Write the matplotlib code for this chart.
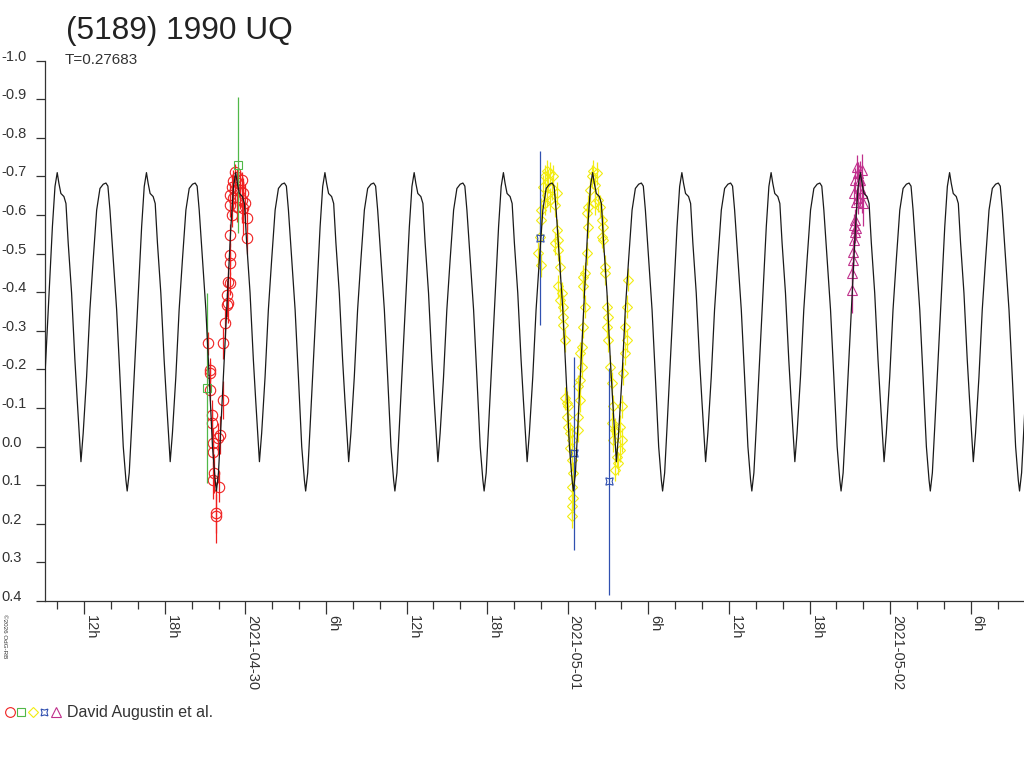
import matplotlib
matplotlib.use('Agg')
import matplotlib.pyplot as plt
import matplotlib.transforms as mtransforms
from matplotlib.lines import Line2D
from matplotlib.legend_handler import HandlerTuple
import numpy as np

plt.rcParams['font.family'] = ['Liberation Sans', 'DejaVu Sans']

title = '(5189) 1990 UQ'
period_days = 0.27683
observer = 'David Augustin et al.'

# time axis in hours from 2021-04-30 00:00 UT
major_hours = [-12, -6, 0, 6, 12, 18, 24, 30, 36, 42, 48, 54]
major_labels = ['12h', '18h', '2021-04-30', '6h', '12h', '18h', '2021-05-01',
                '6h', '12h', '18h', '2021-05-02', '6h']
y_ticks = [-1.0, -0.9, -0.8, -0.7, -0.6, -0.5, -0.4, -0.3, -0.2, -0.1,
           0.0, 0.1, 0.2, 0.3, 0.4]

# model light curve, one rotation (phase, relative magnitude), repeated
model_phase = [0.000, 0.019, 0.041, 0.075, 0.098, 0.123, 0.161, 0.198, 0.224,
               0.247, 0.266, 0.291, 0.329, 0.366, 0.403, 0.442, 0.479, 0.516,
               0.546, 0.568, 0.591, 0.628, 0.666, 0.703, 0.740, 0.770, 0.784,
               0.807, 0.834, 0.871, 0.908, 0.946, 0.975]
model_mag = [-0.710, -0.682, -0.656, -0.648, -0.630, -0.528, -0.398, -0.225,
             -0.121, -0.035, 0.039, -0.035, -0.180, -0.354, -0.484, -0.613,
             -0.669, -0.680, -0.683, -0.675, -0.613, -0.484, -0.354, -0.180,
             0.000, 0.087, 0.115, 0.068, -0.052, -0.225, -0.398, -0.570, -0.674]
model_epoch_h = -14.01

# observations (hours, mag, error)
red_h = [-0.77, -0.65, -0.90, -0.53, -0.28, -1.02, -0.77, -0.40, -0.16, -1.15,
         -0.90, -0.28, -0.03, -1.15, -0.65, -0.16, 0.10, -1.02, -1.15, 0.10,
         -1.15, -1.15, -1.27, -1.15, -1.39, -1.27, -1.39, -1.52, -1.65, -2.76,
         -2.64, -2.64, -2.64, -1.69, -2.51, -2.51, -1.89, -2.02, -2.43, -2.39,
         -2.34, -2.39, -1.94, -2.19, -2.19]
red_m = [-0.712, -0.699, -0.687, -0.682, -0.691, -0.674, -0.665, -0.665, -0.656,
         -0.652, -0.644, -0.639, -0.631, -0.626, -0.622, -0.618, -0.592, -0.600,
         -0.548, -0.540, -0.497, -0.475, -0.427, -0.423, -0.393, -0.371, -0.367,
         -0.320, -0.268, -0.268, -0.199, -0.190, -0.147, -0.121, -0.082, -0.061,
         -0.030, -0.022, -0.009, 0.013, 0.069, 0.086, 0.104, 0.173, 0.181]
red_e = [0.02, 0.02, 0.03, 0.03, 0.02, 0.03, 0.04, 0.05, 0.04, 0.03, 0.03, 0.06,
         0.05, 0.03, 0.04, 0.07, 0.03, 0.03, 0.03, 0.04, 0.03, 0.03, 0.04, 0.03,
         0.04, 0.05, 0.03, 0.04, 0.04, 0.03, 0.03, 0.03, 0.03, 0.05, 0.04, 0.04,
         0.05, 0.04, 0.04, 0.04, 0.05, 0.05, 0.04, 0.05, 0.07]

green_h = [-0.53, -2.86]
green_m = [-0.730, -0.153]
green_e = [0.177, 0.246]

yellow_h = [22.43, 22.68, 22.31, 22.93, 22.56, 22.18, 22.80, 23.18, 22.43, 22.68,
            22.31, 23.05, 21.99, 21.99, 21.94, 21.81, 21.99,
            23.18, 23.30, 23.05, 23.30, 23.43, 23.30, 23.55, 23.43, 23.67, 23.67,
            23.67, 23.80,
            23.80, 23.92, 24.05, 23.92, 24.05, 24.17, 24.29, 24.17, 24.29, 24.42,
            24.29, 24.42, 24.29, 24.29,
            24.79, 24.79, 24.91, 24.79, 24.91, 25.04, 24.91, 25.04, 25.16, 25.29,
            25.16, 25.29, 25.16, 25.41, 25.53, 25.41, 25.53, 25.66, 25.78, 25.91,
            26.16, 26.03, 26.28, 26.40, 26.03,
            26.53, 26.65, 26.53, 26.65, 26.78, 26.78, 26.90, 27.02, 26.90, 27.02,
            27.15, 27.27, 27.40, 27.27, 27.52, 27.40, 27.64, 27.52,
            27.77, 27.89, 28.02, 27.89, 28.02, 28.14, 28.26, 28.39, 28.26, 28.39,
            28.51]
yellow_m = [-0.713, -0.708, -0.700, -0.700, -0.687, -0.674, -0.669, -0.656, -0.652,
            -0.639, -0.630, -0.626, -0.613, -0.587, -0.544, -0.501, -0.470,
            -0.561, -0.535, -0.527, -0.510, -0.466, -0.415, -0.397, -0.380, -0.363,
            -0.337, -0.315, -0.276,
            -0.125, -0.113, -0.104, -0.078, -0.052, -0.035, -0.017, 0.004, 0.034,
            0.069, 0.104, 0.134, 0.155, 0.181,
            -0.043, -0.078, -0.121, -0.156, -0.173, -0.207, -0.242, -0.259, -0.311,
            -0.363, -0.415, -0.449, -0.440, -0.501, -0.570, -0.605, -0.622, -0.665,
            -0.700, -0.713, -0.708, -0.678, -0.639, -0.622, -0.630,
            -0.587, -0.570, -0.544, -0.535, -0.466, -0.449, -0.363, -0.337, -0.311,
            -0.276, -0.207, -0.164, -0.104, -0.061, -0.043, -0.017, 0.026, 0.060,
            0.043, 0.009, -0.017, -0.052, -0.104, -0.190, -0.242, -0.276, -0.311,
            -0.363, -0.432]
yellow_e = [0.03] * len(yellow_m)

blue_h = [21.94, 24.47, 27.10]
blue_m = [-0.541, 0.017, 0.090]
blue_e = [0.225, 0.250, 0.294]

magenta_h = [45.52, 45.89, 45.64, 45.39, 45.76, 45.76, 45.32, 45.89, 45.64, 46.01,
             45.47, 45.39, 45.32, 45.47, 45.39, 45.32, 45.27, 45.22, 45.14, 45.19]
magenta_m = [-0.725, -0.717, -0.708, -0.691, -0.691, -0.669, -0.656, -0.656,
             -0.644, -0.631, -0.635, -0.587, -0.574, -0.566, -0.557, -0.535,
             -0.505, -0.484, -0.449, -0.406]
magenta_e = [0.03, 0.04, 0.03, 0.03, 0.05, 0.04, 0.03, 0.05, 0.04, 0.06,
             0.03, 0.03, 0.03, 0.03, 0.03, 0.03, 0.03, 0.03, 0.03, 0.06]

RED, GREEN, YELLOW, BLUE, MAGENTA = '#f02020', '#50b848', '#f2ec10', '#3050b0', '#c0308c'
TXT = '#333333'

fig = plt.figure(figsize=(10.24, 7.68), dpi=100)
ax = fig.add_axes([45 / 1024, 1 - 601 / 768, 979 / 1024, 540.3 / 768])

# model curve repeated over every rotation in the window
period_h = period_days * 24
cycles = np.arange(-1, 12)
mt = (model_epoch_h + (cycles[:, None] + np.array(model_phase)[None, :]) * period_h).ravel()
mm = np.tile(model_mag, len(cycles))
ax.plot(mt, mm, color='#1a1a1a', lw=0.9, zorder=5)

def obs(h, m, e, marker, color, ms):
    ax.errorbar(h, m, yerr=e, fmt='none', ecolor=color, elinewidth=0.9,
                capsize=0, zorder=3)
    ax.plot(h, m, ls='none', marker=marker, ms=ms, mfc='none', mec=color,
            mew=0.8, zorder=3)

star = (4, 1, 45)
obs(yellow_h, yellow_m, yellow_e, 'D', YELLOW, 5.2)
obs(red_h, red_m, red_e, 'o', RED, 7.5)
obs(green_h, green_m, green_e, 's', GREEN, 5.5)
obs(blue_h, blue_m, blue_e, star, BLUE, 7.5)
obs(magenta_h, magenta_m, magenta_e, '^', MAGENTA, 6.5)

ax.set_xlim(-14.92, 57.97)
ax.set_ylim(0.4, -1.0)

for s in ['top', 'right']:
    ax.spines[s].set_visible(False)
for s in ['left', 'bottom']:
    ax.spines[s].set_color(TXT)
    ax.spines[s].set_linewidth(0.9)

ax.set_xticks(major_hours)
ax.set_xticklabels(major_labels, rotation=270, ha='left', va='top',
                   fontsize=10.5, color=TXT)
ax.set_xticks(np.arange(-14, 58, 2), minor=True)
ax.tick_params(axis='x', which='major', length=9, width=0.9, color=TXT, pad=1)
ax.tick_params(axis='x', which='minor', length=5.5, width=0.9, color=TXT)

ax.set_yticks(y_ticks)
ax.tick_params(axis='y', length=6.5, width=0.9, color=TXT, labelleft=False)
ytrans = mtransforms.blended_transform_factory(fig.transFigure, ax.transData)
for v in y_ticks:
    lab = f'{v:.1f}'.replace('-0.0', '0.0')
    ax.text(1 / 1024, v, lab, transform=ytrans, ha='left', va='baseline',
            fontsize=10.5, color=TXT)

fig.text(66 / 1024, 1 - 39.5 / 768, title, fontsize=22.8, color='#222222',
         ha='left', va='baseline')
fig.text(65 / 1024, 1 - 64 / 768, f'T={period_days}', fontsize=11, color=TXT,
         ha='left', va='baseline')
fig.text(2 / 1024, 1 - 614 / 768, '©2026 OdG-RB', fontsize=4.5, rotation=270,
         ha='left', va='top', color=TXT)

# legend row at the bottom
handles = tuple(
    Line2D([], [], ls='none', marker=mk, ms=ms, mfc='none', mec=c, mew=0.8)
    for mk, c, ms in [('o', RED, 7), ('s', GREEN, 5.5), ('D', YELLOW, 5.2),
                      (star, BLUE, 7), ('^', MAGENTA, 6.5)])
fig.legend([handles], [observer], handler_map={tuple: HandlerTuple(ndivide=None, pad=0)},
           loc='center left', bbox_to_anchor=(3.8 / 1024, 1 - 713 / 768),
           frameon=False, fontsize=11.5, handlelength=3.6, handletextpad=0.35,
           borderpad=0, borderaxespad=0, numpoints=1, labelcolor=TXT)

fig.savefig('out.png', dpi=100)
